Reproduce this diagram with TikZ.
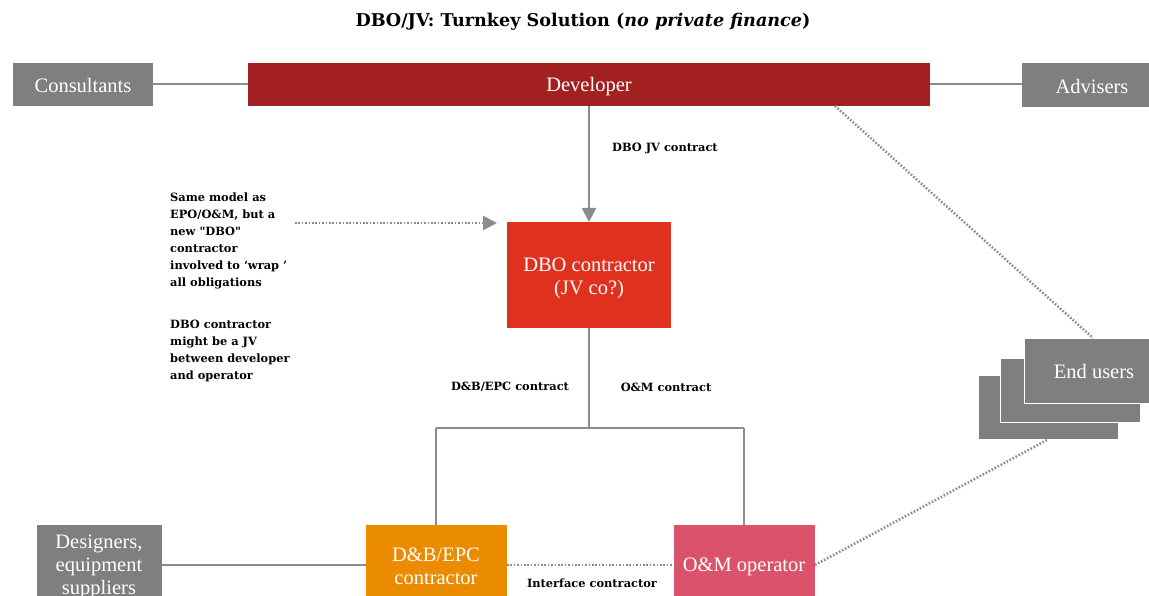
\documentclass[tikz,border=0pt]{standalone}
\usepackage{fontspec}
\setmainfont{Liberation Serif}
\newfontfamily\lblfont{DejaVu Serif}
\usetikzlibrary{arrows.meta}
\definecolor{boxgray}{HTML}{7F7F7F}
\definecolor{devred}{HTML}{A32020}
\definecolor{dbored}{HTML}{E0301E}
\definecolor{epcorange}{HTML}{EB8C00}
\definecolor{ompink}{HTML}{DB536A}
\definecolor{linegray}{HTML}{8C8C8C}
\tikzset{
  box/.style={draw=none, inner sep=0pt, text=white, align=center, font=\fontsize{20.5}{23}\selectfont},
  conn/.style={draw=linegray, line width=2.2pt},
  dots/.style={draw=linegray, line width=2.5pt, dash pattern=on 1.6pt off 1.8pt},
  lbl/.style={font=\lblfont\bfseries\fontsize{11.4}{17}\selectfont, text=black, inner sep=0pt},
  tip/.style={-{Triangle[length=14pt,width=14pt]}},
  userbox/.style={fill=boxgray, draw=white, line width=1pt},
}
\begin{document}
\begin{tikzpicture}[x=1pt,y=-1pt]
\useasboundingbox (0,0) rectangle (1149,596);
% title
\node[font=\lblfont\bfseries\fontsize{17.6}{20}\selectfont] (title) at (583,22) {DBO/JV: Turnkey Solution (\textit{no private finance})};
% top row
\path[fill=boxgray] (13,63) rectangle (153,106);
\node[box] (cons) at (83,85.5) {Consultants};
\coordinate (consR) at (153,84);
\path[fill=devred] (248,63) rectangle (930,106);
\node[box] (dev) at (589,86.5) {Developer};
\coordinate (devL) at (248,84);
\coordinate (devR) at (930,84);
\coordinate (devB) at (589,106);
\coordinate (devB2) at (835,106);
\path[fill=boxgray] (1022,63) rectangle (1149,107);
\node[box] (adv) at (1092,86) {Advisers};
\coordinate (advL) at (1022,84);
\draw[conn] (consR) -- (devL);
\draw[conn] (devR) -- (advL);
% DBO contractor
\path[fill=dbored] (507,222) rectangle (671,328);
\node[box] (dbo) at (589,278) {DBO contractor\\(JV co?)};
\coordinate (dboT) at (589,222);
\coordinate (dboB) at (589,328);
\coordinate (dboL) at (497,223);
\draw[conn, tip] (devB) -- (dboT);
\node[lbl, anchor=west] (dbojv) at (612,148) {DBO JV contract};
% notes
\node[lbl, anchor=north west, align=left] (note1) at (170,193) {Same model as\\EPO/O\&M, but a\\new "DBO"\\contractor\\involved to ‘wrap ’\\all obligations};
\node[lbl, anchor=north west, align=left] (note2) at (170,320) {DBO contractor\\might be a JV\\between developer\\and operator};
\coordinate (noteArr) at (295,223);
\draw[dots, tip] (noteArr) -- (dboL);
% tree
\coordinate (split) at (589,428);
\coordinate (splitL) at (436,428);
\coordinate (splitR) at (744,428);
\draw[conn] (dboB) -- (split);
\draw[conn] (splitL) -- (splitR);
\node[lbl] (lepc) at (510,387) {D\&B/EPC contract};
\node[lbl] (lom) at (666,387) {O\&M contract};
% bottom row
\path[fill=boxgray] (37,525) rectangle (162,600);
\node[box] (des) at (99,567) {Designers,\\equipment\\suppliers};
\path[fill=epcorange] (366,525) rectangle (507,600);
\node[box] (epc) at (436,566) {D\&B/EPC\\contractor};
\path[fill=ompink] (674,525) rectangle (815,600);
\node[box] (om) at (744,566.5) {O\&M operator};
\coordinate (epcT) at (436,525);
\coordinate (omT) at (744,525);
\draw[conn] (splitL) -- (epcT);
\draw[conn] (splitR) -- (omT);
\draw[conn] (162,565) -- (366,565);
\draw[dots] (507,565) -- (674,565);
\node[lbl] (iface) at (592,583) {Interface contractor};
% end users
\draw[userbox] (978,375) rectangle (1118,439);
\draw[userbox] (1000,358) rectangle (1140,422);
\draw[userbox] (1024,338) rectangle (1152,403);
\node[box] (eu) at (1094,371.5) {End users};
\coordinate (euT) at (1093,338);
\coordinate (euB) at (1047,440);
\draw[dots] (devB2) -- (euT);
\draw[dots] (815,565) -- (euB);
\end{tikzpicture}
\end{document}
